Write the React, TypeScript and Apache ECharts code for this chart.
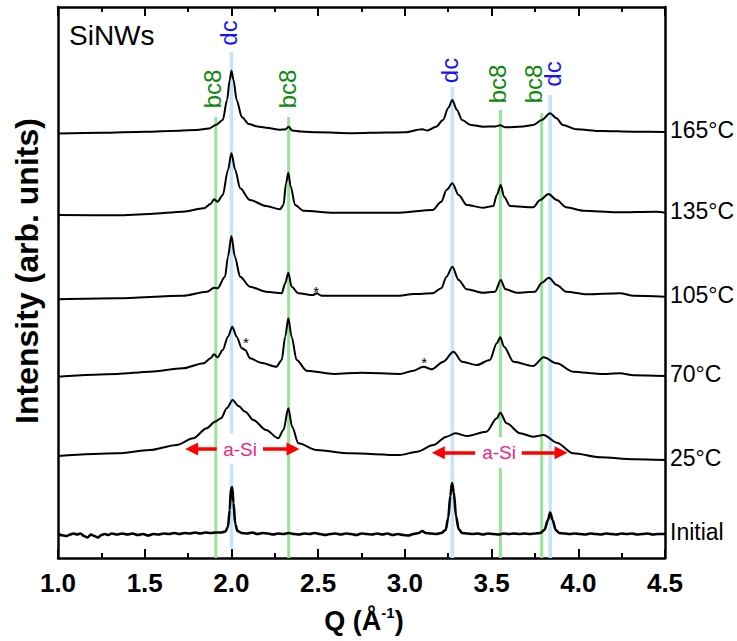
import React, { useEffect, useRef } from "react";
import * as echarts from "echarts";

// ---------------- data ----------------
const xTickLabels = ["1.0", "1.5", "2.0", "2.5", "3.0", "3.5", "4.0", "4.5"];

const trace165: [number, number][] = [
  [1.0, 424.5], [1.25, 425.3], [1.5, 426.3], [1.7, 427.3], [1.8, 428], [1.87, 429.5], [1.91, 433],
  [1.95, 438], [1.975, 458], [1.99, 478], [2.0, 487.3], [2.012, 478], [2.03, 458], [2.06, 441],
  [2.1, 434], [2.15, 431.5], [2.2, 430.3], [2.28, 428.3], [2.31, 428.5], [2.33, 431.3], [2.35, 427.5],
  [2.4, 426.5], [2.5, 425.7], [2.7, 424.8], [2.9, 425.5], [3.0, 425.7], [3.1, 428.7], [3.13, 427.5],
  [3.18, 431.3], [3.22, 438], [3.25, 450], [3.274, 458], [3.3, 448], [3.33, 438], [3.38, 433],
  [3.45, 431.3], [3.52, 431.5], [3.55, 432.7], [3.58, 430.7], [3.68, 431.5], [3.74, 433], [3.79, 438],
  [3.837, 444.7], [3.875, 439.7], [3.91, 433], [3.99, 428.7], [4.13, 427], [4.32, 426.3], [4.5, 426],
];

const trace135: [number, number][] = [
  [1.0, 343], [1.34, 342.7], [1.53, 344], [1.72, 346.3], [1.84, 349.7], [1.88, 354], [1.9, 358.7],
  [1.92, 356.3], [1.95, 363], [1.98, 388], [2.0, 404.7], [2.022, 388], [2.05, 369.7], [2.107, 358],
  [2.2, 352], [2.28, 348.7], [2.3, 353], [2.315, 375], [2.328, 385.3], [2.342, 371.3], [2.367, 353],
  [2.415, 347.3], [2.59, 345.3], [2.97, 345.3], [3.16, 348], [3.21, 356.3], [3.24, 368], [3.274, 374.7],
  [3.31, 363], [3.357, 353], [3.45, 350.3], [3.51, 352], [3.53, 363], [3.553, 373], [3.572, 361.3],
  [3.607, 352], [3.74, 350.7], [3.78, 358], [3.828, 364], [3.876, 358], [3.93, 350.7], [4.03, 347.3],
  [4.22, 345.7], [4.45, 346.3], [4.5, 345.3],
];

const trace105: [number, number][] = [
  [1.0, 258.7], [1.34, 259.7], [1.72, 262.3], [1.86, 266.3], [1.9, 270.3], [1.92, 269.7], [1.963, 281.3],
  [1.98, 301.3], [2.0, 322], [2.02, 301.3], [2.05, 281.3], [2.107, 271.3], [2.2, 266.3], [2.29, 264.7],
  [2.31, 274.7], [2.328, 285.3], [2.347, 271.3], [2.386, 264.7], [2.472, 263], [2.49, 264.7], [2.52, 262.3],
  [2.97, 262.3], [3.05, 264], [3.16, 264.7], [3.21, 269.7], [3.24, 281.3], [3.274, 291.3], [3.31, 278],
  [3.357, 268.7], [3.45, 265.3], [3.52, 266.3], [3.553, 278], [3.58, 268.7], [3.645, 265.3], [3.75, 266.3],
  [3.79, 275.3], [3.83, 280.3], [3.876, 273], [3.93, 266.3], [4.05, 263.7], [4.24, 264.7], [4.32, 262.3],
  [4.5, 261.3],
];

const trace70: [number, number][] = [
  [1.0, 181.3], [1.34, 184], [1.53, 186.3], [1.72, 189.7], [1.84, 194.7], [1.88, 199.7], [1.9, 203.7],
  [1.92, 200.7], [1.95, 208], [1.98, 221.3], [2.005, 231.3], [2.03, 221.3], [2.06, 209.7], [2.08, 208],
  [2.107, 199.7], [2.17, 195.3], [2.26, 191.3], [2.29, 198], [2.31, 221.3], [2.328, 239.7], [2.347, 221.3],
  [2.376, 198], [2.434, 187.3], [2.59, 184], [2.75, 185.3], [2.97, 184], [3.05, 187.3], [3.107, 191.3],
  [3.155, 188.7], [3.222, 196.3], [3.28, 206.3], [3.33, 196.3], [3.415, 193], [3.49, 198], [3.53, 214.7],
  [3.55, 220.7], [3.572, 211.3], [3.626, 196.3], [3.74, 192], [3.8, 200.7], [3.876, 194.7], [3.97, 186.3],
  [4.126, 184], [4.24, 184.7], [4.32, 182.7], [4.5, 182],
];

const trace25: [number, number][] = [
  [1.0, 102], [1.34, 104.7], [1.53, 108], [1.684, 113], [1.78, 119.7], [1.857, 129.7], [1.905, 136.3],
  [1.94, 139.7], [1.973, 149.7], [2.007, 158], [2.04, 152], [2.08, 146.3], [2.126, 138], [2.2, 128],
  [2.27, 119.7], [2.3, 128], [2.328, 149.7], [2.35, 131.3], [2.386, 114.7], [2.49, 108], [2.684, 104.7],
  [2.97, 103], [3.07, 106.3], [3.165, 113], [3.24, 121.3], [3.29, 124.7], [3.357, 122], [3.47, 126.3],
  [3.53, 139.7], [3.55, 145.3], [3.587, 134.7], [3.664, 124.7], [3.74, 121.3], [3.8, 123], [3.876, 115.3],
  [3.97, 104.7], [4.126, 100.7], [4.32, 98.7], [4.5, 98],
];

const traceInitial: [number, number][] = [
  [1.0, 24], [1.03, 22.5], [1.05, 22], [1.07, 23.5], [1.09, 24.5], [1.11, 23.5], [1.13, 24.5], [1.15, 22],
  [1.17, 20.5], [1.19, 23.5], [1.21, 22], [1.23, 20.5], [1.25, 23], [1.27, 24], [1.29, 23], [1.31, 24.5],
  [1.34, 23.5], [1.37, 24.5], [1.4, 23.5], [1.43, 24.5], [1.46, 23], [1.49, 24], [1.52, 22.5], [1.55, 24],
  [1.58, 23.5], [1.61, 24.5], [1.64, 24], [1.67, 25], [1.7, 24], [1.73, 25], [1.76, 24.5], [1.79, 25.5],
  [1.82, 24.5], [1.85, 25.5], [1.88, 25], [1.91, 25.5], [1.94, 25.5], [1.965, 26.5], [1.98, 31], [1.99, 48],
  [1.997, 69], [2.004, 71], [2.012, 55], [2.022, 34], [2.035, 27], [2.06, 25], [2.09, 24.5], [2.12, 25.5],
  [2.15, 24], [2.18, 25], [2.21, 24.5], [2.24, 23.5], [2.27, 24.5], [2.3, 24], [2.33, 25], [2.36, 24],
  [2.39, 23.5], [2.42, 24.5], [2.45, 24], [2.48, 25], [2.51, 24], [2.54, 23], [2.57, 24], [2.6, 24.5],
  [2.63, 23.5], [2.66, 24.5], [2.69, 24], [2.72, 23], [2.75, 24.5], [2.78, 24], [2.81, 23.5], [2.84, 24.5],
  [2.87, 23.5], [2.9, 24.5], [2.93, 23], [2.96, 24], [2.99, 23], [3.02, 22.5], [3.05, 24], [3.08, 25],
  [3.1, 27], [3.12, 25], [3.15, 24.5], [3.18, 24], [3.21, 25], [3.235, 28], [3.25, 40], [3.262, 62],
  [3.272, 75], [3.282, 66], [3.295, 42], [3.31, 29], [3.33, 25], [3.36, 24.5], [3.39, 24], [3.42, 24.5],
  [3.45, 23.5], [3.48, 24.5], [3.51, 24], [3.54, 23.5], [3.57, 24.5], [3.6, 24], [3.63, 24.5], [3.66, 24],
  [3.69, 24.5], [3.72, 24], [3.75, 24.5], [3.78, 25], [3.805, 28], [3.825, 38], [3.838, 45.5], [3.852, 38],
  [3.87, 28], [3.89, 25], [3.92, 24.5], [3.95, 24], [3.98, 24.5], [4.01, 24], [4.04, 23.5], [4.07, 24.5],
  [4.1, 24], [4.13, 23.5], [4.16, 24.5], [4.19, 24], [4.22, 23.5], [4.25, 24.5], [4.28, 24], [4.31, 24.5],
  [4.34, 23.5], [4.37, 24], [4.4, 24.5], [4.43, 23.5], [4.46, 24], [4.5, 24],
];

const traceNames = ["165°C", "135°C", "105°C", "70°C", "25°C", "Initial"];
const traceData = [trace165, trace135, trace105, trace70, trace25, traceInitial];

// reference peak positions (Q, Å^-1)
const bc8Q = [1.91, 2.33, 3.551, 3.789];
const dcQ = [2.0, 3.274, 3.838];

// asterisk-marked impurity peaks
const starPoints: [number, number][] = [[2.488, 270], [2.084, 218.7], [3.111, 198.7]];

// a-Si range arrows
const aSiCenters: [number, number][] = [[2.05, 109], [3.543, 105.3]];
const aSiArrows: [number, number][][] = [
  [[1.915, 109], [1.771, 109]],
  [[2.182, 109], [2.355, 109]],
  [[3.405, 105.3], [3.193, 105.3]],
  [[3.674, 105.3], [3.901, 105.3]],
];

// ---------------- layout (not data) ----------------
const bc8Top = [441, 441, 448, 445];
const dcTop = [506, 471, 463];
const dcBottom = [10, 0, 0];
const bc8LabelPos: [number, number][] = [[1.893, 469], [2.325, 469], [3.533, 474], [3.74, 474]];
const dcLabelPos: [number, number][] = [[1.983, 525], [3.256, 487.5], [3.853, 484]];

const FONT = "'Liberation Sans', Arial, Helvetica, sans-serif";
const GREEN_LINE = "#97e497";
const BLUE_LINE = "#c4e4f7";
const INVISIBLE = "rgba(0,0,0,0)";

export default function App() {
  const ref = useRef<HTMLDivElement>(null);

  useEffect(() => {
    if (!ref.current) return;
    const chart = echarts.init(ref.current, undefined, { renderer: "svg" });

    const series: any[] = [];

    bc8Q.forEach((q, i) => {
      series.push({
        type: "line",
        data: [[q, 0], [q, bc8Top[i]]],
        symbol: "none",
        lineStyle: { color: GREEN_LINE, width: 3 },
        z: 0,
        silent: true,
      });
    });
    dcQ.forEach((q, i) => {
      series.push({
        type: "line",
        data: [[q, dcBottom[i]], [q, dcTop[i]]],
        symbol: "none",
        lineStyle: { color: BLUE_LINE, width: 3.5 },
        z: 0,
        silent: true,
      });
    });

    traceData.forEach((d, i) => {
      series.push({
        type: "line",
        name: traceNames[i],
        data: d,
        symbol: "none",
        smooth: 0.3,
        smoothMonotone: "x",
        lineStyle: { color: "#000", width: i === 5 ? 2.6 : 2 },
        z: 5,
        endLabel: {
          show: true,
          formatter: traceNames[i],
          color: "#000",
          fontSize: 23,
          fontFamily: FONT,
          distance: 5,
          offset: [0, -2],
        },
      });
    });

    const labelScatter = (data: [number, number][], label: any, z = 6) => ({
      type: "scatter",
      data,
      symbolSize: 1,
      itemStyle: { color: INVISIBLE },
      z,
      silent: true,
      label: {
        show: true,
        position: "inside",
        fontFamily: FONT,
        textBorderWidth: 0,
        textBorderColor: "transparent",
        textShadowBlur: 0,
        opacity: 1,
        ...label,
      },
    });

    series.push(labelScatter(bc8LabelPos, { formatter: "bc8", rotate: 90, color: "#0b8a0b", fontSize: 24 }));
    series.push(labelScatter(dcLabelPos, { formatter: "dc", rotate: 90, color: "#1414ff", fontSize: 24 }));
    series.push(labelScatter(starPoints, { formatter: "*", color: "#000", fontSize: 15, offset: [0, 3] }));
    series.push(
      labelScatter(
        aSiCenters,
        {
          formatter: "a-Si",
          color: "#f2217f",
          fontSize: 19,
          backgroundColor: "#fff",
          padding: [7, 3, 5, 3],
        },
        4
      )
    );
    series.push({
      type: "lines",
      coordinateSystem: "cartesian2d",
      data: aSiArrows.map((c) => ({ coords: c })),
      symbol: ["none", "triangle"],
      symbolSize: [11, 13],
      lineStyle: { color: "#ff0000", width: 3.5, opacity: 1 },
      z: 7,
      silent: true,
    });

    const xAxisBase = {
      type: "value",
      min: 1,
      max: 4.5,
      interval: 0.5,
      axisLine: { show: true, onZero: false, lineStyle: { color: "#000", width: 2.5 } },
      axisTick: { show: true, inside: true, length: 9, lineStyle: { color: "#000", width: 2 } },
      minorTick: { show: true, splitNumber: 2, length: 5, lineStyle: { color: "#000", width: 2 } },
      splitLine: { show: false },
      minorSplitLine: { show: false },
    };

    chart.setOption({
      animation: false,
      backgroundColor: "#fff",
      grid: { left: 58, right: 72, top: 7, bottom: 83, containLabel: false },
      xAxis: [
        {
          ...xAxisBase,
          position: "bottom",
          axisLabel: {
            show: true,
            margin: 12,
            color: "#000",
            fontSize: 26,
            fontWeight: "bold",
            fontFamily: FONT,
            showMinLabel: true,
            showMaxLabel: true,
            formatter: (v: number) => {
              const idx = Math.round((v - 1) / 0.5);
              return xTickLabels[idx] ?? v.toFixed(1);
            },
          },
        },
        {
          ...xAxisBase,
          position: "top",
          axisLabel: { show: false },
        },
      ],
      yAxis: [
        {
          type: "value",
          min: 0,
          max: 551,
          position: "left",
          axisLine: { show: true, onZero: false, lineStyle: { color: "#000", width: 2.5 } },
          axisTick: { show: false },
          axisLabel: { show: false },
          splitLine: { show: false },
        },
        {
          type: "value",
          min: 0,
          max: 551,
          position: "right",
          axisLine: { show: true, onZero: false, lineStyle: { color: "#000", width: 2.5 } },
          axisTick: { show: false },
          axisLabel: { show: false },
          splitLine: { show: false },
        },
      ],
      series,
      graphic: [
        {
          type: "text",
          x: 69,
          y: 35,
          style: {
            text: "SiNWs",
            fill: "#000",
            font: `28px ${FONT}`,
            textAlign: "left",
            textVerticalAlign: "middle",
          },
        },
        {
          type: "text",
          x: 27,
          y: 271,
          rotation: Math.PI / 2,
          style: {
            text: "Intensity (arb. units)",
            fill: "#000",
            font: `bold 32px ${FONT}`,
            textAlign: "center",
            textVerticalAlign: "middle",
          },
        },
        {
          type: "text",
          x: 364,
          y: 621,
          style: {
            text: "{a|Q (Å}{s|-1}{a|)}",
            textAlign: "center",
            textVerticalAlign: "middle",
            rich: {
              a: { fontSize: 27, fontWeight: "bold", fontFamily: FONT, fill: "#000", lineHeight: 32 },
              s: { fontSize: 15, fontWeight: "bold", fontFamily: FONT, fill: "#000", verticalAlign: "top", lineHeight: 32 },
            },
          },
        },
      ],
    });

    return () => chart.dispose();
  }, []);

  return (
    <div
      ref={ref}
      style={{ position: "fixed", left: 0, top: 0, width: 737, height: 641, background: "#fff" }}
    />
  );
}
